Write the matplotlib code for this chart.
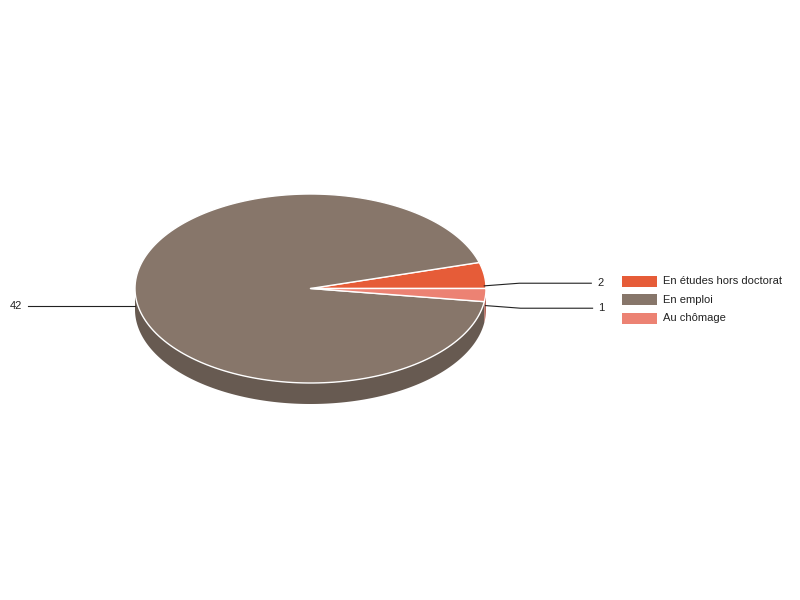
import numpy as np
import matplotlib
matplotlib.use("Agg")
import matplotlib.pyplot as plt
from matplotlib.patches import Polygon, Rectangle
from matplotlib.colors import to_rgb

plt.rcParams['font.family'] = ['Liberation Sans', 'DejaVu Sans']

# data
categories = ["En études hors doctorat", "En emploi", "Au chômage"]
values = [2, 42, 1]
colors = ["#E65C38", "#87766A", "#EC8273"]

# geometry of the 3d pie (pixels)
cx, cy = 310.5, 288.5
rx, ry = 175.5, 94.5
depth = 21


def darker(c, f=0.76):
    return tuple(v * f for v in to_rgb(c))


def rim(t0, t1, n=200):
    t = np.radians(np.linspace(t0, t1, n))
    return cx + rx * np.cos(t), cy - ry * np.sin(t)


fig = plt.figure(figsize=(8, 6), dpi=100)
ax = fig.add_axes([0, 0, 1, 1])
ax.set_xlim(0, 800)
ax.set_ylim(600, 0)
ax.axis("off")

total = sum(values)
bounds = np.concatenate([[0], np.cumsum(values)]) / total * 360.0

# sides first (only the front half of the rim is visible)
for i, c in enumerate(colors):
    a0, a1 = max(bounds[i], 180), min(bounds[i + 1], 360)
    if a1 <= a0:
        continue
    x, y = rim(a0, a1)
    pts = np.column_stack([np.concatenate([x, x[::-1]]),
                           np.concatenate([y, y[::-1] + depth])])
    ax.add_patch(Polygon(pts, closed=True, facecolor=darker(c),
                         edgecolor="none"))

# top faces
for i, c in enumerate(colors):
    x, y = rim(bounds[i], bounds[i + 1])
    pts = np.column_stack([np.concatenate([[cx], x]),
                           np.concatenate([[cy], y])])
    ax.add_patch(Polygon(pts, closed=True, facecolor=c, edgecolor="white",
                         linewidth=1.0, joinstyle="round"))

# value labels with leader lines
right, left = [], []
for i, v in enumerate(values):
    mid = np.radians((bounds[i] + bounds[i + 1]) / 2)
    px = cx + rx * np.cos(mid)
    py = cy - ry * np.sin(mid) + depth / 2
    (right if np.cos(mid) >= 0 else left).append([px, py, v])

for group, side in ((right, 1), (left, -1)):
    group.sort(key=lambda g: g[1])
    ly = [g[1] for g in group]
    # spread labels apart
    gap = 25
    for _ in range(20):
        for j in range(1, len(ly)):
            if ly[j] - ly[j - 1] < gap:
                d = (gap - (ly[j] - ly[j - 1])) / 2
                ly[j - 1] -= d
                ly[j] += d
    for (px, py, v), y in zip(group, ly):
        ex = px + side * 35
        ex2 = ex + side * 72 if side > 0 else 28
        ax.plot([px, ex, ex2], [py, y, y], color="#222222", lw=0.8)
        ax.text(ex2 + side * 6, y, str(v), fontsize=8,
                ha="left" if side > 0 else "right", va="center",
                color="#222222")

# legend
for i, (lab, c) in enumerate(zip(categories, colors)):
    yc = 281.5 + i * 18.3
    ax.add_patch(Rectangle((622, yc - 5.5), 35, 11, facecolor=c,
                           edgecolor="none"))
    ax.text(663, yc, lab, fontsize=8, ha="left", va="center",
            color="#222222")

fig.savefig("out.png", dpi=100)
